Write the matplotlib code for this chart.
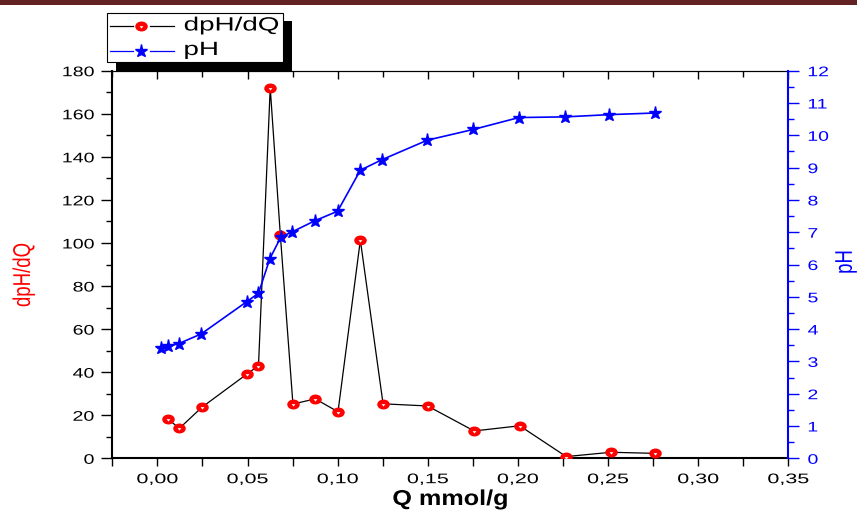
import matplotlib
matplotlib.use("Agg")
import matplotlib.pyplot as plt
from matplotlib.patches import Rectangle
from matplotlib.lines import Line2D
from matplotlib.path import Path
from matplotlib.patheffects import AbstractPathEffect
from matplotlib.transforms import Affine2D
import numpy as np

plt.rcParams['font.family'] = ['Liberation Sans', 'DejaVu Sans']

# ---------------- data ----------------
q_deriv = [0.0059, 0.0122, 0.0247, 0.0498, 0.0561, 0.0626, 0.0682, 0.0752, 0.0876,
           0.1002, 0.1126, 0.1252, 0.1499, 0.1757, 0.2010, 0.2268, 0.2517, 0.2759]
dph_dq = [18.2, 13.9, 23.7, 39.2, 43.0, 172.1, 103.9, 25.2, 27.6,
          21.6, 101.3, 25.3, 24.3, 12.7, 15.1, 0.8, 2.8, 2.3]

q_ph = [0.0019, 0.0057, 0.0118, 0.0243, 0.0496, 0.0561, 0.0624, 0.0685, 0.0748, 0.0872,
        0.1000, 0.1126, 0.1248, 0.1498, 0.1752, 0.2006, 0.2261, 0.2507, 0.2759]
ph = [3.40, 3.47, 3.55, 3.85, 4.85, 5.11, 6.18, 6.85, 7.01, 7.35,
      7.65, 8.92, 9.25, 9.85, 10.18, 10.55, 10.57, 10.64, 10.69]

x_ticks = [0.00, 0.05, 0.10, 0.15, 0.20, 0.25, 0.30, 0.35]
x_ticklabels = ['0,00', '0,05', '0,10', '0,15', '0,20', '0,25', '0,30', '0,35']
left_ticks = [0, 20, 40, 60, 80, 100, 120, 140, 160, 180]
right_ticks = [0, 1, 2, 3, 4, 5, 6, 7, 8, 9, 10, 11, 12]

series_labels = ['dpH/dQ', 'pH']
x_label = 'Q mmol/g'


# ---------------- helpers ----------------
class HStretch(AbstractPathEffect):
    """Stretch text horizontally about an anchor (left/center/right)."""
    def __init__(self, sx, anchor='center'):
        super().__init__()
        self.sx = sx
        self.anchor = anchor

    def draw_path(self, renderer, gc, tpath, affine, rgbFace=None):
        ext = tpath.get_extents(affine)
        if self.anchor == 'left':
            a = ext.x0
        elif self.anchor == 'right':
            a = ext.x1
        else:
            a = 0.5 * (ext.x0 + ext.x1)
        t = affine + Affine2D().translate(-a, 0).scale(self.sx, 1).translate(a, 0)
        renderer.draw_path(gc, tpath, t, rgbFace)


W, H = 857, 515


def fx(x):
    return x / W


def fy(y):
    return 1 - y / H


# custom markers: slightly wide ellipse with a small white down-triangle inside
ell = Path.unit_circle().transformed(Affine2D().scale(1.3, 1.0))
tri = Path([(-0.55, 0.1), (0.55, 0.1), (0.0, -0.6), (-0.55, 0.1)],
           [Path.MOVETO, Path.LINETO, Path.LINETO, Path.CLOSEPOLY])
ELL_MS = 8.0
TRI_MS = 3.0

fig = plt.figure(figsize=(W / 100, H / 100), dpi=100)
ax = fig.add_axes([fx(112.3), fy(458.3), (788.3 - 112.3) / W, (458.3 - 70.7) / H])

# dpH/dQ series
ax.plot(q_deriv, dph_dq, color='black', lw=0.9, marker=ell, ms=ELL_MS,
        mfc='red', mec='red', mew=1.0, zorder=3)
ax.plot(q_deriv, dph_dq, ls='none', marker=tri, ms=TRI_MS,
        mfc='white', mec='none', zorder=4)

ax.set_xlim(-0.025, 0.35)
ax.set_ylim(0, 180)
ax.set_xticks(x_ticks)
ax.set_xticklabels(x_ticklabels)
ax.set_xticks(np.arange(-0.025, 0.351, 0.05), minor=True)
ax.set_yticks(left_ticks)
ax.set_yticks(np.arange(10, 180, 20), minor=True)

ax.tick_params(axis='x', which='both', direction='out', length=6, width=1.0,
               labelsize=10, pad=4, top=False)
ax.tick_params(axis='y', which='major', direction='out', length=8, width=1.0,
               labelsize=10, pad=5)
ax.tick_params(axis='y', which='minor', direction='out', length=4.5, width=1.0)

for t in ax.xaxis.get_major_ticks():
    t.label1.set_path_effects([HStretch(1.55, 'center')])
for t in ax.yaxis.get_major_ticks():
    t.label1.set_path_effects([HStretch(1.41, 'right')])

ax.spines['left'].set_linewidth(1.5)
ax.spines['bottom'].set_linewidth(1.5)
ax.spines['top'].set_linewidth(0.8)
ax.spines['right'].set_visible(False)

ax.set_xlabel(x_label, fontsize=15.5, fontweight='bold')
ax.xaxis.set_label_coords(0.5, -(489.0 - 458.3) / (458.3 - 70.7))
ax.xaxis.label.set_va('top')
ax.xaxis.label.set_path_effects([HStretch(1.17, 'center')])

# top ticks (inward)
sec = ax.secondary_xaxis('top')
sec.set_xticks(x_ticks)
sec.set_xticks(np.arange(-0.025, 0.351, 0.05), minor=True)
sec.tick_params(axis='x', which='major', direction='in', length=6, width=1.0, labeltop=False)
sec.tick_params(axis='x', which='minor', direction='in', length=4, width=1.0)
sec.spines['top'].set_linewidth(0.8)

# pH series on right axis
ax2 = ax.twinx()
ax2.plot(q_ph, ph, color='blue', lw=1.2, marker='*', ms=9.5, mfc='blue', mec='blue', zorder=3)
ax2.set_ylim(0, 12)
ax2.set_yticks(right_ticks)
ax2.set_yticks(np.arange(0.5, 12, 1), minor=True)
ax2.tick_params(axis='y', which='major', direction='out', length=8, width=1.0,
                labelsize=10, pad=6, colors='blue')
ax2.tick_params(axis='y', which='minor', direction='out', length=4.5, width=1.0, colors='blue')
for t in ax2.yaxis.get_major_ticks():
    t.label2.set_path_effects([HStretch(1.4, 'left')])
for s in ['left', 'top', 'bottom']:
    ax2.spines[s].set_visible(False)
ax2.spines['right'].set_color('blue')
ax2.spines['right'].set_linewidth(1.5)

# axis titles
fig.text(fx(24), fy(275), series_labels[0], rotation=90, ha='center', va='center',
         color='red', fontsize=13.4, path_effects=[HStretch(1.3, 'center')])
fig.text(fx(846), fy(262), series_labels[1], rotation=90, ha='center', va='center',
         color='blue', fontsize=13.4, path_effects=[HStretch(1.3, 'center')])

# legend (manual, with black drop shadow)
fig.add_artist(Rectangle((fx(116), fy(70.7)), (292 - 116) / W, (70.7 - 21) / H,
                         transform=fig.transFigure, facecolor='black', edgecolor='none', zorder=1))
fig.add_artist(Rectangle((fx(106.7), fy(62.3)), (283 - 106.7) / W, (62.3 - 12.7) / H,
                         transform=fig.transFigure, facecolor='white', edgecolor='black',
                         lw=0.8, zorder=2))
rows = [26, 50.5]
for yy, col in zip(rows, ['black', 'blue']):
    for xa, xb in [(110, 133), (150, 174)]:
        fig.add_artist(Line2D([fx(xa), fx(xb)], [fy(yy), fy(yy)], transform=fig.transFigure,
                              color=col, lw=0.9, zorder=3))
fig.add_artist(Line2D([fx(141)], [fy(rows[0])], transform=fig.transFigure, ls='none',
                      marker=ell, ms=ELL_MS, mfc='red', mec='red', mew=1.0, zorder=3))
fig.add_artist(Line2D([fx(141)], [fy(rows[0])], transform=fig.transFigure, ls='none',
                      marker=tri, ms=TRI_MS, mfc='white', mec='none', zorder=4))
fig.add_artist(Line2D([fx(141)], [fy(rows[1])], transform=fig.transFigure, ls='none',
                      marker='*', ms=9.5, mfc='blue', mec='blue', zorder=3))
for yy, lab in zip(rows, series_labels):
    fig.text(fx(184), fy(yy), lab, ha='left', va='center', fontsize=13.8, zorder=4,
             path_effects=[HStretch(1.45, 'left')])

# dark top band
fig.add_artist(Rectangle((0, fy(5)), 1, 5 / H, transform=fig.transFigure,
                         facecolor='#632323', edgecolor='none', zorder=10))

fig.savefig('out.png', dpi=100)
